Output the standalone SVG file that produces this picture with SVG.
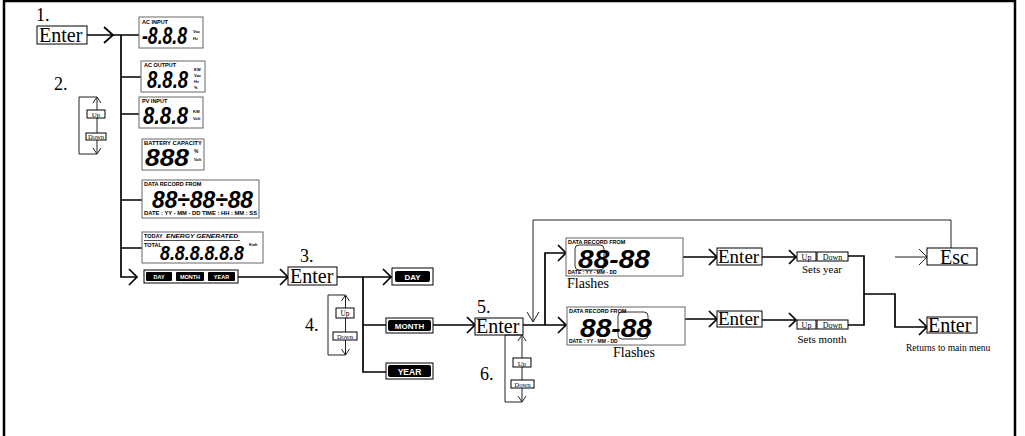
<svg xmlns="http://www.w3.org/2000/svg" width="1025" height="436" viewBox="0 0 1025 436">
<style>
.ln{fill:none;stroke:#000;stroke-width:1.7}
.th{fill:none;stroke:#222;stroke-width:1}
.chev{fill:none;stroke:#000;stroke-width:1.7}
.box{fill:#fff;stroke:#000;stroke-width:1}
.lcd{fill:#fff;stroke:#666;stroke-width:1}
.ser{font-family:"Liberation Serif",serif;fill:#000}
.num{font-size:18px}
.lab{font-family:"Liberation Sans",Arial,sans-serif;font-weight:bold;fill:#000}
.unit{font-family:"Liberation Sans",Arial,sans-serif;font-weight:bold;fill:#000;font-size:4px}
.dig{font-family:"Liberation Sans",Arial,sans-serif;font-style:italic;font-weight:bold;fill:#000}
.pill{fill:#000}
.pt{font-family:"Liberation Sans",Arial,sans-serif;font-weight:bold;fill:#fff;text-anchor:middle}
</style>
<g id="frame">
<path d="M4,0 V436 M4,1 H1016 M1015,0 V436" fill="none" stroke="#000" stroke-width="2.5"/>
</g>
<g id="connectors">
<path class="ln" d="M87,35 H139 M121,35 V277 H137 M121,77 H141 M121,114 H139 M121,200 H142 M121,248 H142"/>
<polyline class="chev" points="104,27 113,35 104,43"/>
<polyline class="chev" points="129,269 137,277 129,285"/>
<path class="ln" d="M238,277 H288"/>
<polyline class="chev" points="280,269 288,277 280,285"/>
<path class="ln" d="M337,277 H391 M363,277 V372 H386 M363,325 H386"/>
<polyline class="chev" points="383,269 391,277 383,285"/>
<path class="ln" d="M433,325 H475"/>
<polyline class="chev" points="467,317 475,325 467,333"/>
<path class="ln" d="M523,325 H566 M545,325 V253 H566"/>
<polyline class="chev" points="558,317 566,325 558,333"/>
<polyline class="chev" points="558,245 566,253 558,261"/>
<path class="th" d="M951,248 V220 H533 V322"/>
<polyline class="th" points="527,312 533,322 539,312"/>
<path class="ln" d="M683,257 H717 M685,319 H717"/>
<polyline class="chev" points="709,249 717,257 709,265"/>
<polyline class="chev" points="709,311 717,319 709,327"/>
<path class="ln" d="M762,257 H796 M762,320 H796"/>
<polyline class="chev" points="789,250 796,257 789,264"/>
<polyline class="chev" points="789,313 796,320 789,327"/>
<path class="ln" d="M848,256 H864 V325 H848 M864,294 H895 V327 H927"/>
<polyline class="chev" points="919,319 927,327 919,335"/>
<path class="th" d="M895,257 H927"/>
<polyline class="th" points="919,249 927,257 919,265"/>
</g>
<g id="step1">
<text class="ser num" x="36" y="21">1.</text>
<rect class="box" x="37" y="26" width="50" height="18"/>
<text class="ser" x="39" y="42" font-size="20">Enter</text>
</g>
<g id="step2">
<text class="ser num" x="54" y="90">2.</text>
<path class="th" d="M97,97 H79 V154 H97 M97,97 V154"/>
<polyline class="th" points="93,103 97,97 101,103"/>
<polyline class="th" points="93,148 97,154 101,148"/>
<rect class="box" x="87" y="110" width="18" height="8"/>
<text class="ser" x="96" y="117" font-size="7" text-anchor="middle">Up</text>
<rect class="box" x="86" y="133" width="20" height="7"/>
<text class="ser" x="96" y="139" font-size="6.5" text-anchor="middle">Down</text>
</g>
<g id="lcd-ac-input">
<rect class="lcd" x="139" y="17" width="64" height="31"/>
<text class="lab" x="142" y="24" font-size="5.5">AC INPUT</text>
<text class="dig" x="142" y="44" font-size="23" textLength="45" lengthAdjust="spacingAndGlyphs">-8.8.8</text>
<text class="unit"><tspan x="193" y="33">Vac</tspan><tspan x="193" y="40">Hz</tspan></text>
</g>
<g id="lcd-ac-output">
<rect class="lcd" x="141" y="61" width="64" height="31"/>
<text class="lab" x="144" y="67" font-size="5.5">AC OUTPUT</text>
<text class="dig" x="147" y="88" font-size="23" textLength="41" lengthAdjust="spacingAndGlyphs">8.8.8</text>
<text class="unit"><tspan x="194" y="71">KW</tspan><tspan x="194" y="77">Vac</tspan><tspan x="194" y="83">Hz</tspan><tspan x="194" y="89">%</tspan></text>
</g>
<g id="lcd-pv-input">
<rect class="lcd" x="139" y="97" width="64" height="31"/>
<text class="lab" x="142" y="103" font-size="5.5">PV INPUT</text>
<text class="dig" x="143" y="124" font-size="23" textLength="45" lengthAdjust="spacingAndGlyphs">8.8.8</text>
<text class="unit"><tspan x="193" y="113">KW</tspan><tspan x="193" y="120">Volt</tspan></text>
</g>
<g id="lcd-battery">
<rect class="lcd" x="142" y="139" width="62" height="31"/>
<text class="lab" x="144" y="145" font-size="5.2" textLength="58" lengthAdjust="spacingAndGlyphs">BATTERY  CAPACITY</text>
<text class="dig" x="145" y="166" font-size="23" textLength="44" lengthAdjust="spacingAndGlyphs">888</text>
<text class="unit"><tspan x="194" y="153" font-size="5">%</tspan><tspan x="194" y="161">Volt</tspan></text>
</g>
<g id="lcd-data-record">
<rect class="lcd" x="142" y="180" width="117" height="38"/>
<text class="lab" x="144" y="186" font-size="5.5">DATA RECORD FROM</text>
<text class="dig" x="152" y="208" font-size="23" textLength="101" lengthAdjust="spacingAndGlyphs">88÷88÷88</text>
<text class="lab" x="144" y="215" font-size="5" textLength="113" lengthAdjust="spacingAndGlyphs">DATE : YY - MM - DD  TIME : HH : MM : SS</text>
</g>
<g id="lcd-energy">
<rect class="lcd" x="142" y="232" width="121" height="31"/>
<text class="lab" x="144" y="238" font-size="5.5">TODAY</text>
<text class="lab" x="166" y="238" font-size="5.5" font-style="italic" textLength="72" lengthAdjust="spacingAndGlyphs">ENERGY GENERATED</text>
<line x1="144" y1="240.5" x2="240" y2="240.5" stroke="#000" stroke-width="0.7"/>
<text class="lab" x="144" y="247" font-size="5.5">TOTAL</text>
<text class="dig" x="160" y="260" font-size="21" textLength="84" lengthAdjust="spacingAndGlyphs">8.8.8.8.8.8</text>
<text class="unit" x="249" y="246">Kwh</text>
</g>
<g id="mode-strip">
<rect class="box" x="144" y="270" width="94" height="13"/>
<rect class="pill" x="146" y="272" width="26" height="9" rx="1"/>
<text class="pt" x="159" y="279" font-size="5.5">DAY</text>
<rect class="pill" x="176" y="272" width="28" height="9" rx="1"/>
<text class="pt" x="190" y="279" font-size="5.5">MONTH</text>
<rect class="pill" x="208" y="272" width="27" height="9" rx="1"/>
<text class="pt" x="221.5" y="279" font-size="5.5">YEAR</text>
</g>
<g id="step3">
<text class="ser num" x="300" y="262">3.</text>
<rect class="box" x="288" y="267" width="49" height="18"/>
<text class="ser" x="290" y="283" font-size="20">Enter</text>
</g>
<g id="day">
<rect class="box" x="392" y="268" width="41" height="17"/>
<rect class="pill" x="395" y="271" width="35" height="11" rx="2"/>
<text class="pt" x="412.5" y="280" font-size="8">DAY</text>
</g>
<g id="month">
<rect class="box" x="386" y="318" width="47" height="15"/>
<rect class="pill" x="388" y="320" width="43" height="11" rx="2"/>
<text class="pt" x="409.5" y="329" font-size="8">MONTH</text>
</g>
<g id="year">
<rect class="box" x="386" y="363" width="47" height="16"/>
<rect class="pill" x="388" y="365" width="43" height="12" rx="2"/>
<text class="pt" x="409.5" y="374.5" font-size="8.5">YEAR</text>
</g>
<g id="step4">
<text class="ser num" x="305" y="331">4.</text>
<path class="th" d="M345.5,295 H328 V355 H345.5 M345.5,295 V355"/>
<polyline class="th" points="341.5,301 345.5,295 349.5,301"/>
<polyline class="th" points="341.5,349 345.5,355 349.5,349"/>
<rect class="box" x="336" y="308" width="18" height="10"/>
<text class="ser" x="345" y="316" font-size="7.5" text-anchor="middle">Up</text>
<rect class="box" x="333" y="332" width="24" height="8"/>
<text class="ser" x="345" y="338.5" font-size="6.5" text-anchor="middle">Down</text>
</g>
<g id="step5">
<text class="ser num" x="477" y="313">5.</text>
<rect class="box" x="475" y="318" width="48" height="17"/>
<text class="ser" x="476" y="333" font-size="20">Enter</text>
</g>
<g id="step6">
<text class="ser num" x="480" y="380">6.</text>
<path class="th" d="M522,335 H505 V402 H522 M522,335 V402"/>
<polyline class="th" points="518,341 522,335 526,341"/>
<polyline class="th" points="518,396 522,402 526,396"/>
<rect class="box" x="513" y="358" width="18" height="9"/>
<text class="ser" x="522" y="365.5" font-size="7" text-anchor="middle">Up</text>
<rect class="box" x="511" y="380" width="23" height="8"/>
<text class="ser" x="522.5" y="386.5" font-size="6.5" text-anchor="middle">Down</text>
</g>
<g id="lcd-year-flash">
<rect class="lcd" x="566" y="238" width="117" height="38"/>
<text class="lab" x="568" y="244" font-size="5.5">DATA RECORD FROM</text>
<rect x="575" y="245" width="29" height="25" rx="4" fill="none" stroke="#000" stroke-width="0.8"/>
<text class="dig" x="578" y="268" font-size="26" textLength="72" lengthAdjust="spacingAndGlyphs">88-88</text>
<text class="lab" x="568" y="274" font-size="5">DATE : YY - MM - DD</text>
<text class="ser" x="567" y="288" font-size="14">Flashes</text>
</g>
<g id="lcd-month-flash">
<rect class="lcd" x="567" y="307" width="118" height="38"/>
<text class="lab" x="569" y="313" font-size="5.5">DATA RECORD FROM</text>
<rect x="618" y="312" width="30" height="27" rx="4" fill="none" stroke="#000" stroke-width="0.8"/>
<text class="dig" x="580" y="337" font-size="26" textLength="72" lengthAdjust="spacingAndGlyphs">88-88</text>
<text class="lab" x="569" y="343" font-size="5">DATE : YY - MM - DD</text>
<text class="ser" x="613" y="357" font-size="14">Flashes</text>
</g>
<g id="enter-year">
<rect class="box" x="717" y="248" width="45" height="17"/>
<text class="ser" x="718" y="263" font-size="19">Enter</text>
</g>
<g id="enter-month">
<rect class="box" x="717" y="311" width="45" height="16"/>
<text class="ser" x="718" y="325" font-size="19">Enter</text>
</g>
<g id="updown-year">
<rect class="box" x="797" y="252" width="19" height="9"/>
<text class="ser" x="806.5" y="259.5" font-size="8" text-anchor="middle">Up</text>
<rect class="box" x="817" y="252" width="31" height="9"/>
<text class="ser" x="832.5" y="259.5" font-size="8" text-anchor="middle">Down</text>
<text class="ser" x="822" y="273" font-size="11" text-anchor="middle">Sets year</text>
</g>
<g id="updown-month">
<rect class="box" x="797" y="320" width="19" height="9"/>
<text class="ser" x="806.5" y="327.5" font-size="8" text-anchor="middle">Up</text>
<rect class="box" x="817" y="320" width="31" height="9"/>
<text class="ser" x="832.5" y="327.5" font-size="8" text-anchor="middle">Down</text>
<text class="ser" x="822" y="343" font-size="11" text-anchor="middle">Sets month</text>
</g>
<g id="esc">
<rect class="box" x="927" y="248" width="50" height="17"/>
<text class="ser" x="940" y="264" font-size="20">Esc</text>
</g>
<g id="enter-final">
<rect class="box" x="927" y="317" width="50" height="16"/>
<text class="ser" x="928" y="332" font-size="20">Enter</text>
<text class="ser" x="906" y="351" font-size="9.5">Returns to main menu</text>
</g>
</svg>
